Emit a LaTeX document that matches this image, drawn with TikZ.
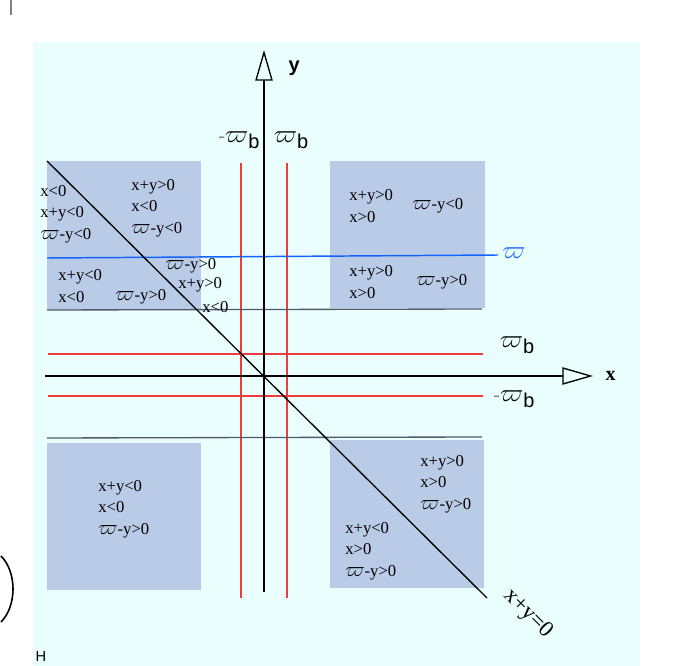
\documentclass[tikz,border=0pt]{standalone}
\usepackage{fontspec}
\usepackage{graphicx}
\setmainfont{Liberation Serif}
\setsansfont{Liberation Sans}
\usetikzlibrary{arrows.meta, positioning}
\definecolor{plane_bg}{RGB}{235, 254, 254}
\definecolor{plane_blue}{RGB}{185, 203, 230}
\definecolor{plane_red}{RGB}{238, 60, 60}
\definecolor{plane_line}{RGB}{20, 100, 250}
\definecolor{plane_gray}{RGB}{80, 90, 105}
\newcommand{\wv}{\scalebox{1.45}[1.3]{$\varpi$}}
\newcommand{\wvb}{\wv\raisebox{-0.6ex}{\sffamily b}}

\begin{document}
\begin{tikzpicture}[
        x=0.75pt, y=-0.75pt,
        region/.style={fill=plane_blue, draw=none},
        lbl/.style={font=\fontsize{12.5}{16}\selectfont, align=left, anchor=west, inner sep=0pt},
        wlbl/.style={font=\fontsize{15}{18}\selectfont, inner sep=0pt},
        axis/.style={draw=black, line width=1.1pt, -{Triangle[open, length=23pt, width=13pt, line width=1pt]}},
        bound/.style={draw=plane_red, line width=0.9pt},
        edge/.style={draw=plane_gray, line width=1pt},
        diag/.style={draw=black, line width=1pt}
    ]
    \useasboundingbox (0,0) rectangle (686,666);
    \fill[plane_bg] (33,42) rectangle (640,666);
    % les quatre zones
    \fill[region] (47,161) rectangle (201,310);
    \fill[region] (330,161) rectangle (485,308);
    \fill[region] (47,443) rectangle (201,590);
    \fill[region] (330,440) rectangle (484,588);
    % bornes
    \coordinate (vl1) at (241,163);  \coordinate (vl2) at (241,598);
    \coordinate (vr1) at (287,163);  \coordinate (vr2) at (287,598);
    \coordinate (hu1) at (48,354);   \coordinate (hu2) at (483,354);
    \coordinate (hd1) at (48,396);   \coordinate (hd2) at (483,396);
    \coordinate (gu1) at (47,310);   \coordinate (gu2) at (482,309);
    \coordinate (gd1) at (47,438);   \coordinate (gd2) at (482,437);
    \coordinate (w1) at (47,258);    \coordinate (w2) at (498,255);
    \coordinate (d1) at (47,161);    \coordinate (d2) at (487,598);
    \coordinate (ox) at (45,376);    \coordinate (oy) at (264,592);
    \node[font=\bfseries\fontsize{15}{18}\selectfont, anchor=west] (xl) at (601,376) {x};
    \node[font=\sffamily\bfseries\fontsize{15}{18}\selectfont, anchor=west] (yl) at (284,68) {y};
    \coordinate (xt) at (593,376);   \coordinate (yt) at (264,50);
    \draw[bound] (vl1) -- (vl2);
    \draw[bound] (vr1) -- (vr2);
    \draw[bound] (hu1) -- (hu2);
    \draw[bound] (hd1) -- (hd2);
    \draw[edge] (gu1) -- (gu2);
    \draw[edge] (gd1) -- (gd2);
    \draw[draw=plane_line, line width=1.1pt] (w1) -- (w2);
    \draw[axis] (ox) -- (xt);
    \draw[axis] (oy) -- (yt);
    \draw[diag] (d1) -- (d2);
    % etiquettes des axes
    \node[wlbl] (wbl) at (239,140) {\textcolor{gray}{-}\wvb};
    \node[wlbl] (wbr) at (291,140) {\wvb};
    \node[wlbl] (wxu) at (517,345) {\wvb};
    \node[wlbl] (wxd) at (514,399) {\textcolor{gray}{-}\wvb};
    \node[wlbl, text=plane_line] (wl) at (514,253) {\wv};
    \node[font=\fontsize{17}{20}\selectfont, rotate=-45, inner sep=0pt] (sum) at (528,614) {x+y=0};
    % zone haut gauche
    \node[lbl] (a1) at (40,214) {x<0\\x+y<0\\\wv-y<0};
    \node[lbl] (a2) at (131,208) {x+y>0\\x<0\\\wv-y<0};
    \node[lbl] (a3) at (58,286) {x+y<0\\x<0};
    \node[lbl] (a4) at (115,297) {\wv-y>0};
    \node[lbl] (a5) at (165,266) {\wv-y>0};
    \node[lbl] (a6) at (178,285) {x+y>0};
    \node[lbl] (a7) at (202,307) {x<0};
    % zone haut droite
    \node[lbl] (b1) at (349,206) {x+y>0\\x>0};
    \node[lbl] (b2) at (412,206) {\wv-y<0};
    \node[lbl] (b3) at (349,282) {x+y>0\\x>0};
    \node[lbl] (b4) at (416,282) {\wv-y>0};
    % zone bas droite
    \node[lbl] (c1) at (420,484) {x+y>0\\x>0\\\wv-y>0};
    \node[lbl] (c2) at (345,551) {x+y<0\\x>0\\\wv-y>0};
    % zone bas gauche
    \node[lbl] (e1) at (98,509) {x+y<0\\x<0\\\wv-y>0};
    % restes du cadrage
    \draw[gray, line width=1.5pt] (11,0) -- (11,15);
    \draw[line width=1.2pt] (1,556) .. controls (17,572) and (17,606) .. (1,622);
    \node[font=\sffamily\fontsize{11}{13}\selectfont] (hh) at (41,656) {H};
\end{tikzpicture}
\end{document}
